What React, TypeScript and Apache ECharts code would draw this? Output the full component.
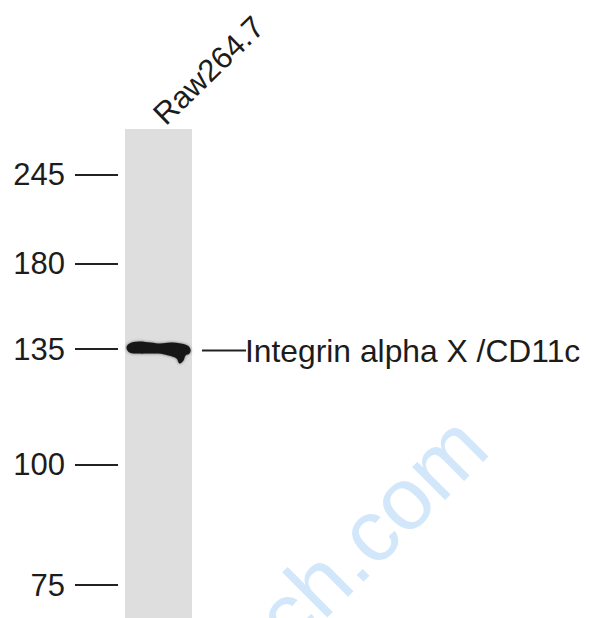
import React, { useEffect, useRef } from "react";
import * as echarts from "echarts";

// Lanes (samples)
const lanes = ["Raw264.7"];
// Molecular-weight ladder (kDa) and relative migration (Rf) on the membrane
const markerKDa = [245, 180, 135, 100, 75];
const markerRf = [0.094, 0.276, 0.45, 0.687, 0.933];
// Detected band
const bandLane = ["Raw264.7"];
const bandRf = [0.449];
const bandLabel = ["Integrin alpha X /CD11c"];
// Watermark text
const watermark = "biosstech.com";

const FONT = '"Liberation Sans", Arial, Helvetica, sans-serif';

export default function App() {
  const ref = useRef<HTMLDivElement>(null);
  useEffect(() => {
    document.body.style.margin = "0";
    document.body.style.overflow = "hidden";
    const chart = echarts.init(ref.current!, null, { renderer: "svg" });

    const bandPoints: number[][] = [
      [-32, -1], [-29, -5], [-20, -7], [-8, -6], [2, -5], [12, -6], [22, -5], [29, -3], [32, 1],
      [31, 5], [27, 7], [25, 12], [21, 15], [18, 10], [10, 7], [0, 5], [-10, 5], [-20, 5], [-29, 4],
    ];

    chart.setOption({
      animation: false,
      grid: { left: 118, width: 81, top: 129, bottom: 0, containLabel: false },
      xAxis: {
        type: "category",
        data: lanes,
        position: "top",
        axisLine: { show: false },
        axisTick: { show: false },
        axisLabel: {
          rotate: 44,
          margin: 10,
          fontSize: 31,
          color: "#1c1c1c",
          fontFamily: FONT,
        },
      },
      yAxis: {
        type: "value",
        min: 0,
        max: 1,
        inverse: true,
        splitLine: { show: false },
        axisLine: { show: false },
        axisTick: {
          show: true,
          customValues: markerRf,
          length: 43,
          lineStyle: { color: "#222", width: 2 },
        },
        axisLabel: {
          show: true,
          customValues: markerRf,
          margin: 53,
          fontSize: 31,
          color: "#1c1c1c",
          fontFamily: FONT,
          formatter: (v: number) => {
            const i = markerRf.findIndex((m) => Math.abs(m - v) < 1e-6);
            return i >= 0 ? String(markerKDa[i]) : "";
          },
        },
      },
      graphic: [
        {
          type: "text",
          x: 502,
          y: 462,
          rotation: Math.PI / 4,
          z: 0,
          silent: true,
          style: {
            text: watermark,
            fontSize: 88,
            fontFamily: FONT,
            fill: "#d3e7fb",
            align: "right",
            verticalAlign: "bottom",
          },
        },
      ],
      series: [
        {
          type: "bar",
          data: lanes.map(() => 1),
          barWidth: 67,
          itemStyle: { color: "#dedede" },
          silent: true,
          z: 1,
        },
        {
          type: "custom",
          z: 3,
          data: bandLane.map((l, i) => [l, bandRf[i]]),
          renderItem: (params: any, api: any) => {
            const idx = params.dataIndex;
            const c = api.coord([api.value(0), api.value(1)]);
            const laneRight = c[0] + 33.5;
            const pts = bandPoints.map((p) => [c[0] + p[0], c[1] + p[1]]);
            return {
              type: "group",
              children: [
                {
                  type: "polygon",
                  shape: { points: pts, smooth: 0.4 },
                  style: {
                    fill: "#161616",
                    shadowBlur: 3,
                    shadowColor: "rgba(0,0,0,0.55)",
                  },
                },
                {
                  type: "line",
                  shape: { x1: laneRight + 10, y1: c[1] + 2, x2: laneRight + 54, y2: c[1] + 2 },
                  style: { stroke: "#222", lineWidth: 2 },
                },
                {
                  type: "text",
                  x: laneRight + 53,
                  y: c[1] + 2,
                  style: {
                    text: bandLabel[idx],
                    fontSize: 31.8,
                    fontFamily: FONT,
                    fill: "#1c1c1c",
                    align: "left",
                    verticalAlign: "middle",
                  },
                },
              ],
            };
          },
        },
      ],
    });
    return () => chart.dispose();
  }, []);
  return <div ref={ref} style={{ width: 590, height: 618 }} />;
}
